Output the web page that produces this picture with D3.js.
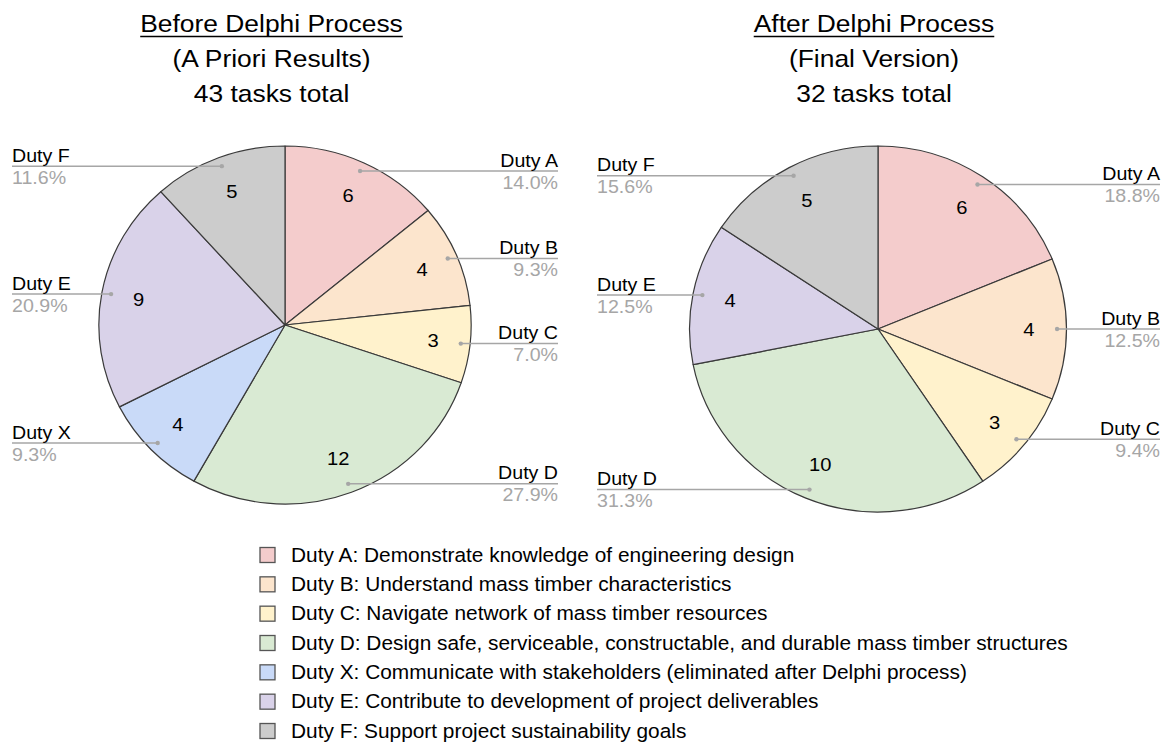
<!DOCTYPE html>
<html>
<head>
<meta charset="utf-8">
<script src="https://cdn.jsdelivr.net/npm/d3@7"></script>
<style>
  body { margin: 0; background: #fff; }
  svg { display: block; font-family: "Liberation Sans", Arial, sans-serif; }
</style>
</head>
<body>
<svg class="chart" width="1166" height="743"></svg>
<script>
// Data
const beforeDuties = ["Duty A", "Duty B", "Duty C", "Duty D", "Duty X", "Duty E", "Duty F"];
const beforeCounts = [6, 4, 3, 12, 4, 9, 5];
const afterDuties = ["Duty A", "Duty B", "Duty C", "Duty D", "Duty E", "Duty F"];
const afterCounts = [6, 4, 3, 10, 4, 5];
const beforeTitle = ["Before Delphi Process", "(A Priori Results)", "43 tasks total"];
const afterTitle = ["After Delphi Process", "(Final Version)", "32 tasks total"];
const legendKeys = ["Duty A", "Duty B", "Duty C", "Duty D", "Duty X", "Duty E", "Duty F"];
const legendText = [
	"Duty A: Demonstrate knowledge of engineering design",
	"Duty B: Understand mass timber characteristics",
	"Duty C: Navigate network of mass timber resources",
	"Duty D: Design safe, serviceable, constructable, and durable mass timber structures",
	"Duty X: Communicate with stakeholders (eliminated after Delphi process)",
	"Duty E: Contribute to development of project deliverables",
	"Duty F: Support project sustainability goals"
];

const color = d3
	.scaleOrdinal()
	.domain(legendKeys)
	.range(["#f4cccc", "#fce5cd", "#fff2cc", "#d9ead3", "#c9daf8", "#d9d2e9", "#cccccc"]);

const svg = d3.select(".chart");
const pct = d3.format(".1%");

// text with a slight horizontal stretch, like the source picture
function addText(parent, x, y, str, size, sx, anchor, fill) {
	return parent
		.append("text")
		.attr("transform", `translate(${x},${y}) scale(${sx},1)`)
		.attr("font-size", size)
		.attr("text-anchor", anchor)
		.attr("fill", fill)
		.text(str);
}

function drawPie(cfg) {
	const g = svg.append("g");

	// Title block
	cfg.title.forEach((t, i) => {
		const txt = addText(g, cfg.titleX, 32 + i * 35, t, 24, 1.1, "middle", "#000");
		if (i === 0) {
			const w = txt.node().getComputedTextLength() * 1.1;
			g.append("line")
				.attr("x1", cfg.titleX - w / 2)
				.attr("x2", cfg.titleX + w / 2)
				.attr("y1", 36.5)
				.attr("y2", 36.5)
				.attr("stroke", "#000")
				.attr("stroke-width", 1.5);
		}
	});

	const pie = d3.pie().sort(null).value(d => d.v);
	const data = cfg.names.map((n, i) => ({ name: n, v: cfg.values[i] }));
	const arcs = pie(data);
	const total = d3.sum(cfg.values);

	const arc = d3.arc().innerRadius(0).outerRadius(cfg.r);
	const dotArc = d3.arc().innerRadius(cfg.r * 0.95).outerRadius(cfg.r * 0.95);
	const numArc = d3.arc().innerRadius(cfg.r * 0.8).outerRadius(cfg.r * 0.8);

	g.append("g")
		.attr("transform", `translate(${cfg.cx},${cfg.cy}) scale(${cfg.sx},1)`)
		.selectAll("path")
		.data(arcs)
		.join("path")
		.attr("d", arc)
		.attr("fill", d => color(d.data.name))
		.attr("stroke", "#3a3a3a")
		.attr("stroke-width", 1.2)
		.attr("stroke-linejoin", "round")
		.attr("vector-effect", "non-scaling-stroke");

	// numbers in slices
	arcs.forEach(d => {
		const [x, y] = numArc.centroid(d);
		addText(g, cfg.cx + x * cfg.sx, cfg.cy + y, d.data.v, 18.5, 1.09, "middle", "#000")
			.attr("dominant-baseline", "central");
	});

	// leader lines and labels
	arcs.forEach(d => {
		const [x, y] = dotArc.centroid(d);
		const px = cfg.cx + x * cfg.sx;
		const py = cfg.cy + y;
		const right = x > 0;
		const edge = right ? cfg.rightEdge : cfg.leftEdge;
		const anchor = right ? "end" : "start";

		g.append("line")
			.attr("x1", px)
			.attr("x2", edge)
			.attr("y1", py)
			.attr("y2", py)
			.attr("stroke", "#a6a6a6")
			.attr("stroke-width", 1.5);
		g.append("circle")
			.attr("cx", px)
			.attr("cy", py)
			.attr("r", 2.2)
			.attr("fill", "#a6a6a6");

		addText(g, edge, py - 4.5, d.data.name, 18.5, 1.06, anchor, "#000");
		addText(g, edge, py + 17.5, pct(d.data.v / total), 18.5, 1.06, anchor, "#a6a6a6");
	});
}

drawPie({
	names: beforeDuties,
	values: beforeCounts,
	title: beforeTitle,
	titleX: 271.5,
	cx: 285,
	cy: 325,
	r: 179,
	sx: 1.04,
	leftEdge: 12,
	rightEdge: 558
});

drawPie({
	names: afterDuties,
	values: afterCounts,
	title: afterTitle,
	titleX: 874,
	cx: 878,
	cy: 329,
	r: 183,
	sx: 1.03,
	leftEdge: 597,
	rightEdge: 1160
});

// Legend
const legend = svg.append("g");
const rowY = d3.scalePoint().domain(legendKeys).range([555, 731]);

legendKeys.forEach((k, i) => {
	const y = rowY(k);
	legend
		.append("rect")
		.attr("x", 260)
		.attr("y", y - 7.5)
		.attr("width", 15)
		.attr("height", 15)
		.attr("fill", color(k))
		.attr("stroke", "#555")
		.attr("stroke-width", 1.3);
	addText(legend, 291, y + 6.5, legendText[i], 19.5, 1.07, "start", "#000");
});
</script>
</body>
</html>
